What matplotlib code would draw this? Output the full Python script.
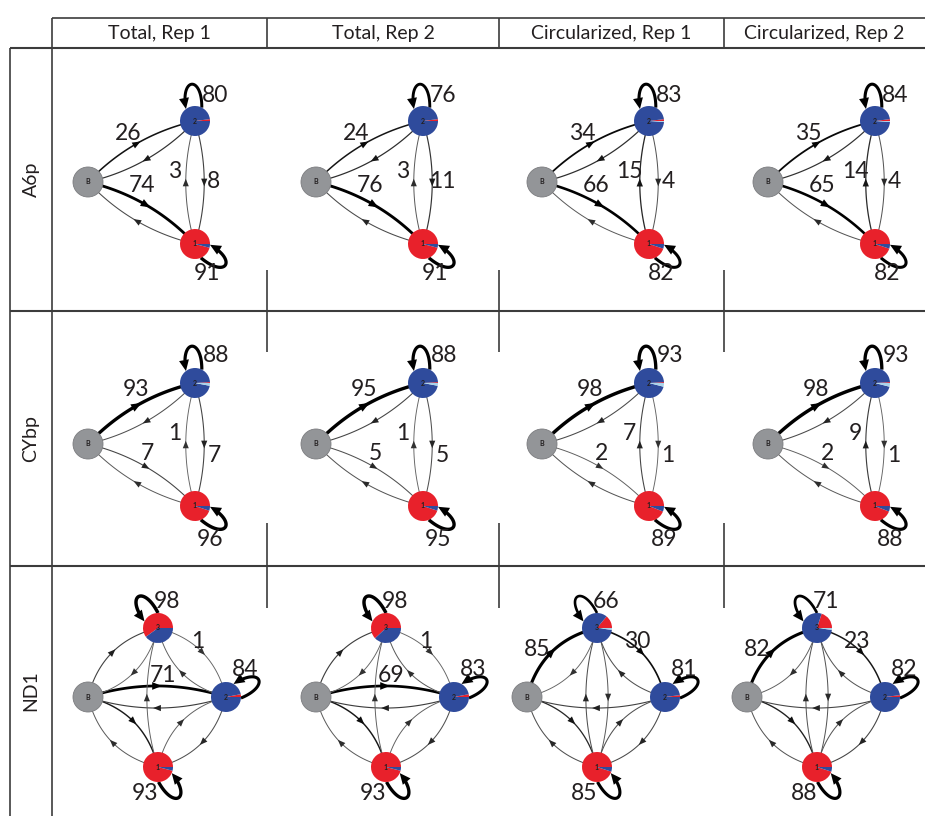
import numpy as np
import matplotlib
matplotlib.use("Agg")
import matplotlib.pyplot as plt
from matplotlib.patches import Wedge, Circle, Polygon

plt.rcParams['font.family'] = ['Lato', 'DejaVu Sans']

W, H = 925, 816

columns = ["Total, Rep 1", "Total, Rep 2", "Circularized, Rep 1", "Circularized, Rep 2"]
genes = ["A6p", "CYbp", "ND1"]

# transition percentages, one value per column
a6p_trans = {
    ("B", "2"): [26, 24, 34, 35],
    ("B", "1"): [74, 76, 66, 65],
    ("2", "2"): [80, 76, 83, 84],
    ("2", "1"): [8, 11, 4, 4],
    ("2", "B"): [12, 13, 13, 12],
    ("1", "1"): [91, 91, 82, 82],
    ("1", "2"): [3, 3, 15, 14],
    ("1", "B"): [6, 6, 3, 4],
}
cybp_trans = {
    ("B", "2"): [93, 95, 98, 98],
    ("B", "1"): [7, 5, 2, 2],
    ("2", "2"): [88, 88, 93, 93],
    ("2", "1"): [7, 5, 1, 1],
    ("2", "B"): [5, 7, 6, 6],
    ("1", "1"): [96, 95, 89, 88],
    ("1", "2"): [1, 1, 7, 9],
    ("1", "B"): [3, 4, 4, 3],
}
nd1_trans = {
    ("B", "3"): [8, 9, 85, 82],
    ("B", "2"): [71, 69, 0, 0],
    ("B", "1"): [21, 22, 15, 18],
    ("3", "3"): [98, 98, 66, 71],
    ("3", "2"): [1, 1, 30, 23],
    ("3", "1"): [0, 0, 3, 4],
    ("3", "B"): [1, 1, 1, 2],
    ("2", "2"): [84, 83, 81, 82],
    ("2", "B"): [9, 9, 8, 7],
    ("2", "3"): [2, 3, 5, 4],
    ("2", "1"): [5, 5, 6, 7],
    ("1", "1"): [93, 93, 85, 88],
    ("1", "B"): [3, 3, 5, 4],
    ("1", "3"): [2, 2, 5, 4],
    ("1", "2"): [2, 2, 5, 4],
}

# which transitions carry a number
tri_labeled = [("B", "2"), ("B", "1"), ("1", "2"), ("2", "1"), ("2", "2"), ("1", "1")]
nd1_labeled = [
    [("3", "3"), ("3", "2"), ("B", "2"), ("2", "2"), ("1", "1")],
    [("3", "3"), ("3", "2"), ("B", "2"), ("2", "2"), ("1", "1")],
    [("3", "3"), ("3", "2"), ("B", "3"), ("2", "2"), ("1", "1")],
    [("3", "3"), ("3", "2"), ("B", "3"), ("2", "2"), ("1", "1")],
]

# state composition of each node: (red, blue, light)
a6p_pie = {
    "2": [(0.02, 0.98, 0.0), (0.02, 0.98, 0.0), (0.02, 0.97, 0.01), (0.02, 0.97, 0.01)],
    "1": [(0.96, 0.04, 0.0), (0.96, 0.04, 0.0), (0.95, 0.05, 0.0), (0.95, 0.05, 0.0)],
}
cybp_pie = {
    "2": [(0.01, 0.96, 0.03), (0.01, 0.96, 0.03), (0.01, 0.95, 0.04), (0.01, 0.95, 0.04)],
    "1": [(0.95, 0.05, 0.0), (0.95, 0.05, 0.0), (0.94, 0.06, 0.0), (0.94, 0.06, 0.0)],
}
nd1_pie = {
    "3": [(0.60, 0.40, 0.0), (0.62, 0.38, 0.0), (0.14, 0.84, 0.02), (0.20, 0.78, 0.02)],
    "2": [(0.03, 0.97, 0.0), (0.03, 0.97, 0.0), (0.02, 0.98, 0.0), (0.02, 0.98, 0.0)],
    "1": [(0.96, 0.04, 0.0), (0.96, 0.04, 0.0), (0.95, 0.05, 0.0), (0.95, 0.05, 0.0)],
}

PIE_COLORS = ['#e8212b', '#2f4b9c', '#a9d4ea']

# layout (image pixels, y downwards)
tri_nodes = {"B": (0, 0), "2": (107, -61), "1": (107, 62)}
nd1_nodes = {"B": (0, 0), "3": (70, -69), "2": (138, 0), "1": (70, 70)}
anchors = {
    "A6p": [(88, 182), (316, 182), (542, 182), (768, 182)],
    "CYbp": [(88, 444), (316, 444), (542, 444), (768, 444)],
    "ND1": [(88, 697), (316, 697), (527, 697), (747, 697)],
}
loop_dir = {
    "A6p": {"2": 95, "1": -35},
    "CYbp": {"2": 95, "1": -35},
    "ND1": {"3": 122, "2": 28, "1": -56},
}
label_pos = {
    "A6p": {("B", "2"): ("B", (40, -48)), ("B", "1"): ("B", (54, 4)),
            ("1", "2"): ("2", (-20, 50)), ("2", "1"): ("2", (19, 60)),
            ("2", "2"): ("2", (20, -25)), ("1", "1"): ("1", (12, 30))},
    "CYbp": {("B", "2"): ("B", (48, -54)), ("B", "1"): ("B", (59, 10)),
             ("1", "2"): ("2", (-20, 51)), ("2", "1"): ("2", (19, 73)),
             ("2", "2"): ("2", (21, -27)), ("1", "1"): ("1", (15, 33))},
    "ND1": {("3", "3"): ("3", (9, -27)), ("3", "2"): ("3", (40, 13)),
            ("B", "2"): ("B", (75, -22)), ("B", "3"): ("B", (10, -48)),
            ("2", "2"): ("2", (19, -27)), ("1", "1"): ("1", (-13, 27))},
}
NODE_R = 15


def up(p):
    return np.array([p[0], H - p[1]], float)


def edge_style(w):
    lw_px = 0.9 + 2.6 * w / 100
    g = 0.42 * (1 - w / 100) ** 6
    return lw_px * 0.72, (g, g, g)


def head(ax, tip, u, length, width, color):
    n = np.array([-u[1], u[0]])
    base = tip - u * length
    ax.add_patch(Polygon([tip, base + n * width / 2, base - n * width / 2],
                         closed=True, facecolor=color, edgecolor='none', zorder=3))


def draw_edge(ax, p0, p1, k, w):
    d = p1 - p0
    c = (p0 + p1) / 2 + k * np.array([-d[1], d[0]])
    t = np.linspace(0, 1, 80)[:, None]
    pts = (1 - t) ** 2 * p0 + 2 * (1 - t) * t * c + t ** 2 * p1
    lw, col = edge_style(w)
    ax.plot(pts[:, 0], pts[:, 1], color=col, lw=lw, solid_capstyle='butt', zorder=2)
    mid = (p0 + 2 * c + p1) / 4
    u = d / np.linalg.norm(d)
    ln = 7.5 + 3 * w / 100
    hc = tuple(0.5 * v for v in col)
    head(ax, mid + u * ln / 2, u, ln, 6 + 2.5 * w / 100, hc)


def draw_loop(ax, c, phi, w):
    ph = np.radians(phi)
    n = np.array([np.cos(ph), np.sin(ph)])
    tg = np.array([-n[1], n[0]])
    a0, a1 = ph - np.radians(32), ph + np.radians(32)
    P0 = c + NODE_R * np.array([np.cos(a0), np.sin(a0)])
    P3 = c + NODE_R * np.array([np.cos(a1), np.sin(a1)])
    P1 = c + (NODE_R + 30) * n - 11 * tg
    P2 = c + (NODE_R + 30) * n + 11 * tg
    t = np.linspace(0, 0.88, 60)[:, None]
    pts = ((1 - t) ** 3 * P0 + 3 * (1 - t) ** 2 * t * P1
           + 3 * (1 - t) * t ** 2 * P2 + t ** 3 * P3)
    lw, col = edge_style(w)
    ax.plot(pts[:, 0], pts[:, 1], color=col, lw=lw, solid_capstyle='butt', zorder=3)
    u = (P3 - P2) / np.linalg.norm(P3 - P2)
    head(ax, P3, u, 11, 10, col)


def draw_node(ax, c, name, fracs):
    if fracs is None:
        ax.add_patch(Circle(c, NODE_R, facecolor='#939598', edgecolor='#7b7c7f',
                            lw=0.6, zorder=5))
    else:
        start = 0.0
        for f, col in zip(fracs, PIE_COLORS):
            if f <= 0:
                continue
            ax.add_patch(Wedge(c, NODE_R, start, start + 360 * f, facecolor=col,
                               edgecolor='none', zorder=5))
            start += 360 * f
    ax.text(c[0], c[1], name, fontsize=5, fontweight='bold', color='#231f20',
            ha='center', va='center', zorder=6)


def draw_panel(ax, gene, col, trans, pies, nodes, labeled, k_of):
    ax0 = anchors[gene][col]
    pos = {nm: up((ax0[0] + o[0], ax0[1] + o[1])) for nm, o in nodes.items()}
    for (a, b), vals in trans.items():
        w = vals[col]
        if w <= 0:
            continue
        if a == b:
            draw_loop(ax, pos[a], loop_dir[gene][a], w)
        else:
            draw_edge(ax, pos[a], pos[b], k_of(a, b), w)
    for nm in nodes:
        draw_node(ax, pos[nm], nm, None if nm == "B" else pies[nm][col])
    for e in labeled:
        ref, off = label_pos[gene][e]
        img = (ax0[0] + nodes[ref][0] + off[0], ax0[1] + nodes[ref][1] + off[1])
        p = up(img)
        ax.text(p[0], p[1], str(trans[e][col]), fontsize=16.5, color='#231f20',
                ha='center', va='center', zorder=7)


def nd1_k(a, b):
    if {a, b} in ({"B", "2"}, {"3", "1"}):
        return 0.16
    return 0.3


fig = plt.figure(figsize=(W / 100, H / 100), dpi=100)
ax = fig.add_axes([0, 0, 1, 1])
ax.set_xlim(0, W)
ax.set_ylim(0, H)
ax.axis('off')

for c in range(4):
    draw_panel(ax, "A6p", c, a6p_trans, a6p_pie, tri_nodes, tri_labeled, lambda a, b: 0.15)
    draw_panel(ax, "CYbp", c, cybp_trans, cybp_pie, tri_nodes, tri_labeled, lambda a, b: 0.15)
    draw_panel(ax, "ND1", c, nd1_trans, nd1_pie, nd1_nodes, nd1_labeled[c], nd1_k)

# table frame
line_kw = dict(color='#3c3c3c', solid_capstyle='butt', zorder=1)


def hline(y, x0, x1, lw=1.5):
    ax.plot([x0, x1], [H - y, H - y], lw=lw, **line_kw)


def vline(x, y0, y1, lw=1.2):
    ax.plot([x, x], [H - y0, H - y1], lw=lw, **line_kw)


hline(18, 52, W, lw=1.2)
for y in (48, 311, 566):
    hline(y, 10, W)
vline(10, 48, H)
vline(52, 18, H)
for x in (267, 499, 724):
    vline(x, 18, 48)
    vline(x, 270, 352)
    vline(x, 523, 608)

col_edges = [52, 267, 499, 724, W]
for i, name in enumerate(columns):
    xc = (col_edges[i] + col_edges[i + 1]) / 2
    ax.text(xc, H - 33, name, fontsize=14, color='#231f20', ha='center', va='center')

row_edges = [48, 311, 566, H]
for i, g in enumerate(genes):
    yc = (row_edges[i] + row_edges[i + 1]) / 2
    ax.text(31, H - yc, g, fontsize=14, color='#231f20', rotation=90,
            ha='center', va='center')

fig.savefig("out.png", dpi=100, facecolor='white')
